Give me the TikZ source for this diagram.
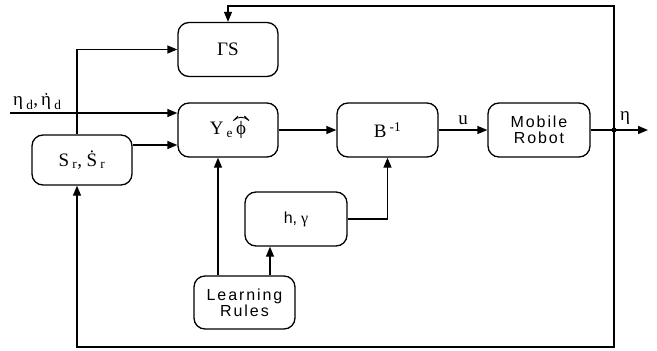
\documentclass[tikz,border=0pt]{standalone}
\usepackage{fontspec}
\setmainfont{Liberation Sans}
\newfontfamily\spaced[LetterSpace=12]{Liberation Sans}
\newfontfamily\ser{Liberation Serif}
\usetikzlibrary{arrows.meta,calc}
\newcommand{\lsub}[1]{\,\textsubscript{#1}}
\newcommand{\hatover}[1]{\tikz[overlay,baseline=0pt,x=1pt,y=1pt,line width=0.9pt,line cap=round]\draw (-#1-3.3,18.5) -- (-#1,21.8) -- (-#1+3.3,18.5);}
\newcommand{\dotover}[1]{\tikz[overlay,baseline=0pt,x=1pt,y=1pt]\fill (-#1,11.8) circle (1.1pt);}
\begin{document}
\begin{tikzpicture}[x=1pt,y=-1pt,
  blk/.style={draw,line width=1.3pt,rounded corners=11pt,minimum width=100pt,minimum height=54pt,inner sep=0pt,align=center},
  sr/.style={font=\ser\fontsize{19}{22}\selectfont},
  ss/.style={font=\fontsize{16}{19}\selectfont},
  conn/.style={line width=1.3pt},
  arr/.style={conn,-{Triangle[length=10pt,width=8pt]}},
  lbl/.style={inner sep=1pt}]
\useasboundingbox (0,0) rectangle (657,351);
\node[blk,sr] (GS) at (228,49.5) {ΓS};
\node[blk,sr] (Y) at (228,130) {Y\lsub{e}\kern3pt ϕ\hatover{5}};
\node[blk,sr,minimum height=50pt] (Sr) at (82,160) {S\lsub{r}, Ṡ\lsub{r}};
\node[blk,sr,minimum width=101pt] (B) at (387.5,130) {B\,\textsuperscript{-1}};
\node[blk,ss,minimum width=102pt] (M) at (539,130) {\spaced Mobile\\[-3pt]\spaced Robot};
\node[blk,ss,minimum width=102pt] (HG) at (296,219) {h,\kern4pt{\ser γ}};
\node[blk,ss,minimum width=101pt,minimum height=53pt] (LR) at (244.5,302.5) {\spaced Learning\\[-3pt]\spaced Rules};
\coordinate (in) at (10,113);
\coordinate (sy) at (0,145);
\coordinate (br) at (77,0);
\coordinate (dot) at (614,130);
\coordinate (out) at (648,130);
\coordinate (top) at (228,6);
\coordinate (bot) at (77,347);
\coordinate (ly) at (218,0);
\coordinate (lh) at (270,0);
\draw[arr] (in) -- (in -| Y.west);
\node[lbl,sr,anchor=south west] (etad) at (12,111) {η\lsub{d},\kern3pt η\dotover{4.8}\lsub{d}};
\draw[arr] (Sr.east |- sy) -- (Y.west |- sy);
\draw[arr] (Sr.north -| br) |- (GS.west);
\draw[arr] (Y.east) -- (B.west);
\draw[arr] (B.east) -- (M.west);
\node[lbl,sr,anchor=south] (u) at ($(B.east)!0.5!(M.west)+(0,-4)$) {u};
\draw[arr] (M.east) -- (out);
\fill (dot) circle (2.6pt);
\node[lbl,sr,anchor=south west] (eta) at ($(dot)+(5,-4)$) {η};
\draw[arr] (dot) |- (top) -- (GS.north);
\draw[arr] (dot) |- (bot) -- (Sr.south -| bot);
\draw[arr] (LR.north -| ly) -- (Y.south -| ly);
\draw[arr] (LR.north -| lh) -- (HG.south -| lh);
\draw[arr] (HG.east) -| (B.south);
\end{tikzpicture}
\end{document}
